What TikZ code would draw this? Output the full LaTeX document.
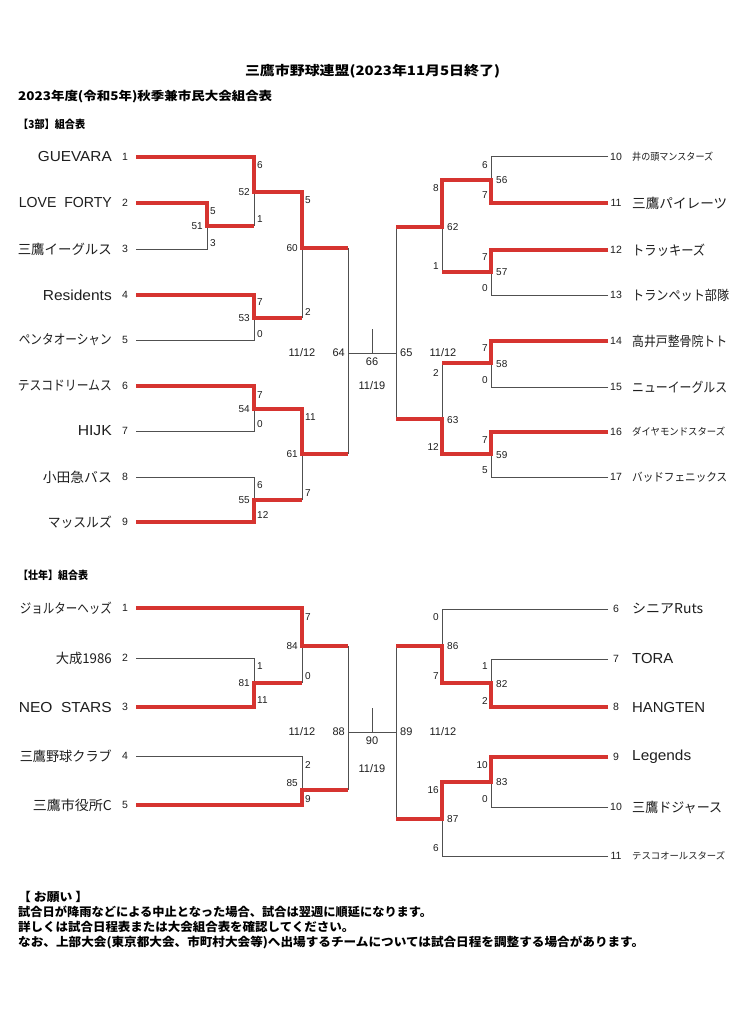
\documentclass[tikz,border=0pt]{standalone}
\usepackage{fontspec}
\usepackage{graphicx}
\setmainfont{Liberation Sans}
\newfontfamily\jp{Noto Sans CJK JP}
\definecolor{lred}{RGB}{214,52,48}
\definecolor{lgray}{RGB}{80,80,80}
\definecolor{tgray}{RGB}{30,30,30}
\newcommand\fitw[2]{\resizebox{#1pt}{\height}{#2}}
\newcommand\en{\fontsize{14.5}{15}\selectfont}
\newcommand\ja{\jp\fontsize{13.5}{14}\selectfont}
\newcommand\Lteam[4]{%
  \node[tnum] (#1n) at (125,#2) {#3};
  \node[tname,anchor=east] (#1t) at (112,#2) {#4};
  \coordinate (#1) at (136,#2);}
\newcommand\Rteam[4]{%
  \node[tnum] (#1n) at (616,#2) {#3};
  \node[tname,anchor=west] (#1t) at (632,#2) {#4};
  \coordinate (#1) at (608,#2);}
\newcommand\scW[3]{\node[sc,anchor=west] (sW#1x#2) at (#1+3,#2) {#3};}
\newcommand\scE[3]{\node[sc,anchor=east] (sE#1x#2) at (#1-3,#2) {#3};}
\newcommand\jE[3]{\node[sc,anchor=east] (j#3) at (#1-4,#2) {#3};}
\newcommand\jW[3]{\node[sc,anchor=west] (j#3) at (#1+5,#2) {#3};}
\tikzset{
  gl/.style={draw=lgray,line width=1pt},
  rl/.style={draw=lred,line width=3.5pt,line join=miter},
  tname/.style={inner sep=0pt,text=tgray},
  tnum/.style={inner sep=0pt,text=tgray,font=\fontsize{10.5}{11}\selectfont},
  sc/.style={inner sep=0pt,text=tgray,font=\fontsize{10}{10}\selectfont},
  cl/.style={inner sep=0pt,text=tgray,font=\fontsize{11}{12}\selectfont},
  hd/.style={inner sep=0pt,anchor=west,text=black,font=\jp\bfseries\fontsize{12}{13}\selectfont},
  ft/.style={inner sep=0pt,anchor=west,text=black,font=\jp\bfseries\fontsize{12}{13}\selectfont}
}
\begin{document}
\begin{tikzpicture}[x=1pt,y=-1pt]
\useasboundingbox (0,0) rectangle (737,1024);
\fill[white] (0,0) rectangle (737,1024);

% headers
\node[hd,anchor=center] (title) at (372.5,71) {\fitw{255}{\jp\bfseries\fontsize{13}{14}\selectfont 三鷹市野球連盟(2023年11月5日終了)}};
\node[hd] (sub) at (18,97) {\fitw{254}{2023年度(令和5年)秋季兼市民大会組合表}};
\node[hd] (h3) at (18,124) {\fitw{67}{\fontsize{11}{12}\selectfont 【3部】組合表}};
\node[hd] (hs) at (18,575) {\fitw{70}{\fontsize{11}{12}\selectfont 【壮年】組合表}};

% ===== top bracket teams
\Lteam{a1}{157}{1}{\fitw{74}{\en GUEVARA}}
\Lteam{a2}{203}{2}{\fitw{93}{\en LOVE\ \ FORTY}}
\Lteam{a3}{249}{3}{\fitw{94}{\ja 三鷹イーグルス}}
\Lteam{a4}{295}{4}{\fitw{69}{\en Residents}}
\Lteam{a5}{340}{5}{\fitw{93}{\ja ペンタオーシャン}}
\Lteam{a6}{386}{6}{\fitw{94}{\ja テスコドリームス}}
\Lteam{a7}{431}{7}{\fitw{34}{\en HIJK}}
\Lteam{a8}{477}{8}{\fitw{69}{\ja 小田急バス}}
\Lteam{a9}{522}{9}{\fitw{64}{\ja マッスルズ}}
\Rteam{b10}{157}{10}{\fitw{81}{\jp\fontsize{10}{10}\selectfont 井の頭マンスターズ}}
\Rteam{b11}{203}{11}{\fitw{95}{\ja 三鷹パイレーツ}}
\Rteam{b12}{250}{12}{\fitw{73}{\ja トラッキーズ}}
\Rteam{b13}{295}{13}{\fitw{97}{\ja トランペット部隊}}
\Rteam{b14}{341}{14}{\fitw{95}{\ja 高井戸整骨院トト}}
\Rteam{b15}{387}{15}{\fitw{95}{\ja ニューイーグルス}}
\Rteam{b16}{432}{16}{\fitw{93}{\jp\fontsize{10}{10}\selectfont ダイヤモンドスターズ}}
\Rteam{b17}{477}{17}{\fitw{95}{\jp\fontsize{11.5}{12}\selectfont バッドフェニックス}}

\coordinate (m51) at (207,226);
\coordinate (m52) at (254,192);
\coordinate (m53) at (254,318);
\coordinate (m54) at (254,409);
\coordinate (m55) at (254,500);
\coordinate (m60) at (302,248);
\coordinate (m61) at (302,454);
\coordinate (m64) at (348,353);
\coordinate (m66) at (372,353);
\coordinate (m66t) at (372,329);
\coordinate (m65) at (396,353);
\coordinate (m56) at (491,180);
\coordinate (m57) at (491,272);
\coordinate (m58) at (491,363);
\coordinate (m59) at (491,454);
\coordinate (m62) at (442,227);
\coordinate (m63) at (442,419);

% gray
\draw[gl] (a3) -| (m51);
\draw[gl] (m51 -| m52) -- (m52);
\draw[gl] (a5) -| (m53);
\draw[gl] (m53 -| m60) -- (m60);
\draw[gl] (a7) -| (m54);
\draw[gl] (a8) -| (m55);
\draw[gl] (m55 -| m61) -- (m61);
\draw[gl] (m60 -| m64) -- (m61 -| m64);
\draw[gl] (m64) -- (m65);
\draw[gl] (m66) -- (m66t);
\draw[gl] (b10) -| (m56);
\draw[gl] (b13) -| (m57);
\draw[gl] (m57 -| m62) -- (m62);
\draw[gl] (b15) -| (m58);
\draw[gl] (b17) -| (m59);
\draw[gl] (m58 -| m63) -- (m63);
\draw[gl] (m62 -| m65) -- (m63 -| m65);
% red
\draw[rl] (a1) -| (m52) -| (m60) -- (m60 -| m64);
\draw[rl] (a2) -| (m51) -- (m51 -| m52);
\draw[rl] (a4) -| (m53) -- (m53 -| m60);
\draw[rl] (a6) -| (m54) -| (m61) -- (m61 -| m64);
\draw[rl] (a9) -| (m55) -- (m55 -| m61);
\draw[rl] (b11) -| (m56) -| (m62) -- (m62 -| m65);
\draw[rl] (b12) -| (m57) -- (m57 -| m62);
\draw[rl] (b14) -| (m58) -- (m58 -| m63);
\draw[rl] (b16) -| (m59) -| (m63) -- (m63 -| m65);

% scores top-left
\scW{207}{211}{5} \scW{207}{243}{3} \jE{207}{226}{51}
\scW{254}{165}{6} \scW{254}{219}{1} \jE{254}{192}{52}
\scW{254}{302}{7} \scW{254}{334}{0} \jE{254}{318}{53}
\scW{254}{395}{7} \scW{254}{424}{0} \jE{254}{409}{54}
\scW{254}{485}{6} \scW{254}{515}{12} \jE{254}{500}{55}
\scW{302}{200}{5} \scW{302}{312}{2} \jE{302}{248}{60}
\scW{302}{417}{11} \scW{302}{493}{7} \jE{302}{454}{61}
% scores top-right
\scE{491}{165}{6} \scE{491}{195}{7} \jW{491}{180}{56}
\scE{491}{257}{7} \scE{491}{288}{0} \jW{491}{272}{57}
\scE{491}{348}{7} \scE{491}{380}{0} \jW{491}{364}{58}
\scE{491}{440}{7} \scE{491}{470}{5} \jW{491}{455}{59}
\scE{442}{188}{8} \scE{442}{266}{1} \jW{442}{227}{62}
\scE{442}{373}{2} \scE{442}{447}{12} \jW{442}{420}{63}
% center top
\node[cl] (d1a) at (302,353) {11/12};
\node[cl,anchor=east] (j64) at (345,353) {64};
\node[cl] (j66) at (372,362) {66};
\node[cl] (d1b) at (372,386) {11/19};
\node[cl,anchor=west] (j65) at (400,353) {65};
\node[cl] (d1c) at (443,353) {11/12};

% ===== bottom bracket
\Lteam{c1}{608}{1}{\fitw{92}{\ja ジョルターヘッズ}}
\Lteam{c2}{658}{2}{\fitw{56}{\ja 大成1986}}
\Lteam{c3}{707}{3}{\fitw{93}{\en NEO\ \ STARS}}
\Lteam{c4}{756}{4}{\fitw{92}{\ja 三鷹野球クラブ}}
\Lteam{c5}{805}{5}{\fitw{79}{\ja 三鷹市役所C}}
\Rteam{d6}{609}{6}{\fitw{71}{\ja シニアRuts}}
\Rteam{d7}{659}{7}{\fitw{41}{\en TORA}}
\Rteam{d8}{707}{8}{\fitw{73}{\en HANGTEN}}
\Rteam{d9}{757}{9}{\fitw{59}{\en Legends}}
\Rteam{d10}{807}{10}{\fitw{90}{\ja 三鷹ドジャース}}
\Rteam{d11}{856}{11}{\fitw{93}{\jp\fontsize{9.5}{10}\selectfont テスコオールスターズ}}

\coordinate (m81) at (254,683);
\coordinate (m84) at (302,646);
\coordinate (m85) at (302,790);
\coordinate (m88) at (348,732);
\coordinate (m90) at (372,732);
\coordinate (m90t) at (372,708);
\coordinate (m89) at (396,732);
\coordinate (m82) at (491,683);
\coordinate (m86) at (442,646);
\coordinate (m83) at (491,782);
\coordinate (m87) at (442,819);

\draw[gl] (c2) -| (m81);
\draw[gl] (m81 -| m84) -- (m84);
\draw[gl] (c4) -| (m85);
\draw[gl] (m84 -| m88) -- (m85 -| m88);
\draw[gl] (m88) -- (m89);
\draw[gl] (m90) -- (m90t);
\draw[gl] (d6) -| (m86);
\draw[gl] (d7) -| (m82);
\draw[gl] (d10) -| (m83);
\draw[gl] (d11) -| (m87);
\draw[gl] (m86 -| m89) -- (m87 -| m89);

\draw[rl] (c1) -| (m84) -- (m84 -| m88);
\draw[rl] (c3) -| (m81) -- (m81 -| m84);
\draw[rl] (c5) -| (m85) -- (m85 -| m88);
\draw[rl] (d8) -| (m82) -| (m86) -- (m86 -| m89);
\draw[rl] (d9) -| (m83) -| (m87) -- (m87 -| m89);

\scW{254}{666}{1} \scW{254}{700}{11} \jE{254}{683}{81}
\scW{302}{617}{7} \scW{302}{676}{0} \jE{302}{646}{84}
\scW{302}{765}{2} \scW{302}{799}{9} \jE{302}{783}{85}
\scE{491}{666}{1} \scE{491}{701}{2} \jW{491}{684}{82}
\scE{491}{765}{10} \scE{491}{799}{0} \jW{491}{782}{83}
\scE{442}{617}{0} \scE{442}{676}{7} \jW{442}{646}{86}
\scE{442}{790}{16} \scE{442}{848}{6} \jW{442}{819}{87}
\node[cl] (d2a) at (302,732) {11/12};
\node[cl,anchor=east] (j88) at (345,732) {88};
\node[cl] (j90) at (372,741) {90};
\node[cl] (d2b) at (372,769) {11/19};
\node[cl,anchor=west] (j89) at (400,732) {89};
\node[cl] (d2c) at (443,732) {11/12};

% footer
\node[ft] (f0) at (18,897) {\fitw{70}{【\ お願い\ 】}};
\node[ft] (f1) at (18,912) {\fitw{414}{試合日が降雨などによる中止となった場合、試合は翌週に順延になります。}};
\node[ft] (f2) at (18,927) {\fitw{336}{詳しくは試合日程表または大会組合表を確認してください。}};
\node[ft] (f3) at (18,942) {\fitw{626}{なお、上部大会(東京都大会、市町村大会等)へ出場するチームについては試合日程を調整する場合があります。}};
\end{tikzpicture}
\end{document}
